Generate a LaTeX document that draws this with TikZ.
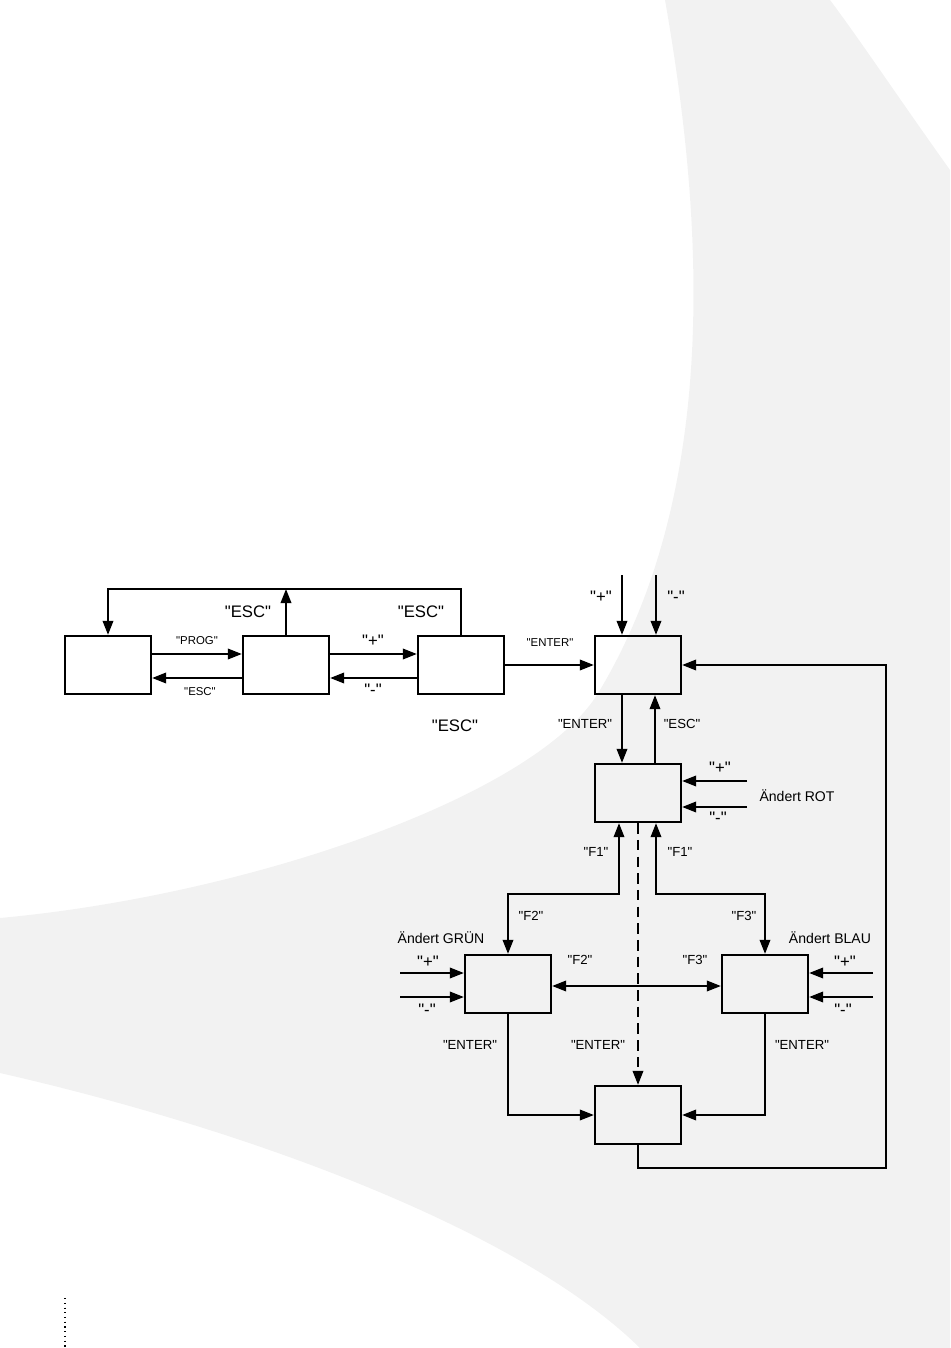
\documentclass[tikz,border=0pt]{standalone}
\usepackage{fontspec}
\setmainfont{Liberation Sans}[Ligatures=TeXOff]
\usetikzlibrary{arrows.meta,calc}
\tikzset{
	box/.style={draw, line width=1.3pt, minimum width=1.72cm, minimum height=1.16cm, inner sep=0pt},
	arr/.style={line width=1.1pt, -{Triangle[length=8pt,width=6pt]}},
	dbl/.style={line width=1.1pt, {Triangle[length=8pt,width=6pt]}-{Triangle[length=8pt,width=6pt]}},
	lbl/.style={font=\fontsize{7.5}{8}\selectfont, inner sep=0pt},
	lbls/.style={font=\fontsize{6.5}{7}\selectfont, inner sep=0pt},
	lblpm/.style={font=\fontsize{9.5}{10}\selectfont, inner sep=0pt},
	lblb/.style={font=\fontsize{9.5}{10}\selectfont, inner sep=0pt},
	bg/.style={fill=black!5}
}
\begin{document}
\begin{tikzpicture}[x=0.02cm, y=-0.02cm]
		\useasboundingbox (0,0) rectangle (950,1348);
		\fill[bg] (665,0) .. controls (700,200) and (725,480) .. (600,690) .. controls (540,795) and (250,895) .. (0,918) -- (0,1073) .. controls (250,1130) and (520,1230) .. (640,1348) -- (950,1348) -- (950,170) .. controls (900,100) and (860,40) .. (830,0) -- cycle;
		\draw[dotted, line width=0.7pt] (65,1298) -- (65,1348);
		
		\foreach \n/\x/\y in {A/108/665, B/286/665, C/461/665, D/638/665, E/638/793, F/508/984, G/765/984, H/638/1115}
		{
			\node[box] (\n) at (\x,\y) {};
		}
		
		\draw[arr] ($(A.east)+(0,-11)$) -- ($(B.west)+(0,-11)$);
		\draw[arr] ($(B.west)+(0,13)$) -- ($(A.east)+(0,13)$);
		\draw[arr] ($(B.east)+(0,-11)$) -- ($(C.west)+(0,-11)$);
		\draw[arr] ($(C.west)+(0,13)$) -- ($(B.east)+(0,13)$);
		\coordinate (top) at (461,589);
		\draw[arr] (C.north) -- (top) -| (A.north);
		\draw[arr] (B.north) -- (B.north |- top);
		\draw[arr] (C.east) -- (D.west);
		
		\coordinate (pD) at (622,575);
		\coordinate (mD) at (656,575);
		\draw[arr] (pD) -- (pD |- D.north);
		\draw[arr] (mD) -- (mD |- D.north);
		\draw[arr] ($(D.south)+(-16,0)$) -- ($(E.north)+(-16,0)$);
		\draw[arr] ($(E.north)+(17,0)$) -- ($(D.south)+(17,0)$);
		
		\coordinate (pE) at (747,781);
		\coordinate (mE) at (747,807);
		\draw[arr] (pE) -- (pE -| E.east);
		\draw[arr] (mE) -- (mE -| E.east);
		
		\coordinate (kF) at (619,894);
		\coordinate (kG) at (656,894);
		\draw[dbl] (F.north) |- (kF) -- (kF |- E.south);
		\draw[dbl] (G.north) |- (kG) -- (kG |- E.south);
		\draw[arr, dash pattern=on 6pt off 3.5pt] (E.south) -- (H.north);
		\draw[dbl] ($(F.east)+(0,2)$) -- ($(G.west)+(0,2)$);
		
		\foreach \y in {973, 997}
		{
			\coordinate (inF\y) at (400,\y);
			\coordinate (inG\y) at (873,\y);
			\draw[arr] (inF\y) -- (inF\y -| F.west);
			\draw[arr] (inG\y) -- (inG\y -| G.east);
		}
		
		\draw[arr] (F.south) |- (H.west);
		\draw[arr] (G.south) |- (H.east);
		\coordinate (ret) at (886,1168);
		\draw[arr] (H.south) |- (ret) |- (D.east);
		
		\foreach \x/\y/\lab [count=\i] in {197/641/"PROG", 200/692/"ESC", 550/643/"ENTER"}
		{
			\node[lbls] (s\i) at (\x,\y) {\lab};
		}
		\foreach \x/\y/\lab [count=\i] in {373/641/"+", 373/690/"-", 601/597/"+", 676/597/"-", 720/768/"+", 718/818/"-", 428/962/"+", 427/1010/"-", 845/962/"+", 843/1010/"-"}
		{
			\node[lblpm] (pm\i) at (\x,\y) {\lab};
		}
		\foreach \x/\y/\lab [count=\i] in {585/724/"ENTER", 682/724/"ESC", 596/852/"F1", 680/852/"F1", 531/916/"F2", 744/916/"F3", 580/960/"F2", 695/960/"F3", 470/1045/"ENTER", 598/1045/"ENTER", 802/1045/"ENTER"}
		{
			\node[lbl] (m\i) at (\x,\y) {\lab};
		}
		\node[lbl, font=\fontsize{8}{9}\selectfont] (rot) at (797,796) {Ändert ROT};
		\node[lbl, font=\fontsize{8}{9}\selectfont] (gruen) at (441,938) {Ändert GRÜN};
		\node[lbl, font=\fontsize{8}{9}\selectfont] (blau) at (830,938) {Ändert BLAU};
		\foreach \x/\y [count=\i] in {248/612, 421/612, 455/726}
		{
			\node[lblb] (esc\i) at (\x,\y) {"ESC"};
		}
	\end{tikzpicture}
\end{document}
